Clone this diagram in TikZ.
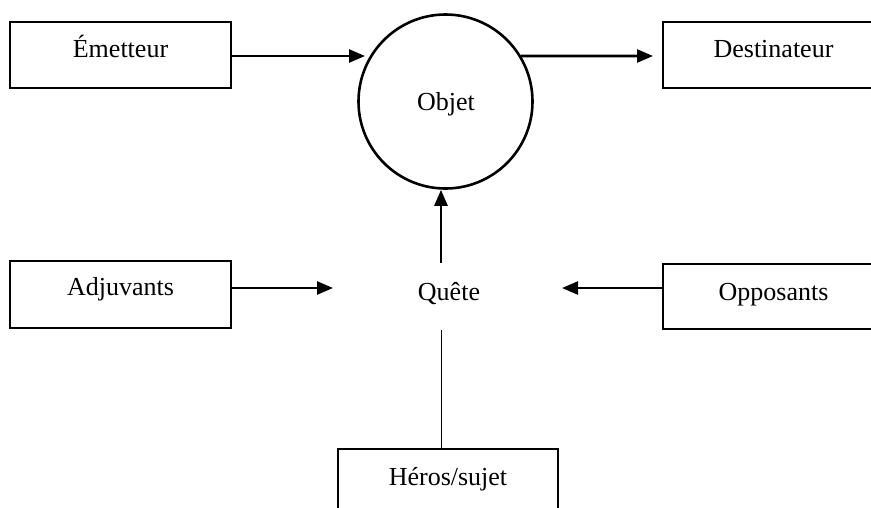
\documentclass[tikz,border=0pt]{standalone}
\usepackage{fontspec}
\setmainfont{Liberation Serif}
\usetikzlibrary{arrows.meta}
\begin{document}
\begin{tikzpicture}[x=1pt,y=-1pt,
  lbl/.style={font=\fontsize{26}{30}\selectfont},
  box/.style={draw, line width=2.9pt, inner sep=0pt, minimum width=221pt, lbl, text height=35pt, text depth=31pt},
  arr/.style={line width=2.6pt, -{Triangle[length=16pt,width=13pt]}},
  thinline/.style={line width=0.9pt}]
\useasboundingbox (0,0) rectangle (871,507);
\clip (0,0) rectangle (871,507);
% boxes
\node[box] (emet) at (120.5,55) {Émetteur};
\node[box] (dest) at (773.5,55) {Destinateur};
\node[box, text height=34pt, text depth=33pt] (adj) at (120.5,294.5) {Adjuvants};
\node[box, text height=36pt, text depth=29pt] (opp) at (773.5,296.5) {Opposants};
\node[box, minimum width=220pt, text height=36pt, text depth=30pt] (heros) at (448,482) {Héros/sujet};
% circle
\node[draw, circle, line width=2.6pt, minimum size=174pt, inner sep=0pt] (obj) at (445.5,101.5) {};
\node[lbl, anchor=base] (objt) at (446,110) {Objet};
% quete
\node[lbl, anchor=base] (quete) at (449,300) {Quête};
% coordinates
\coordinate (emtip) at (365,56);
\coordinate (desttip) at (653,56);
\coordinate (adjtip) at (333,288);
\coordinate (opptip) at (562,288);
\coordinate (qup) at (441,263);
\coordinate (qdown) at (441,330);
% connectors
\draw[arr] (emet.east |- emtip) -- (emtip);
\draw[arr] (obj.31.5) -- (desttip);
\draw[arr] (adj.east |- adjtip) -- (adjtip);
\draw[arr] (opp.west |- opptip) -- (opptip);
\draw[arr] (qup) -- (qup |- obj.south);
\draw[thinline] (qdown) -- (qdown |- heros.north);
\end{tikzpicture}
\end{document}
